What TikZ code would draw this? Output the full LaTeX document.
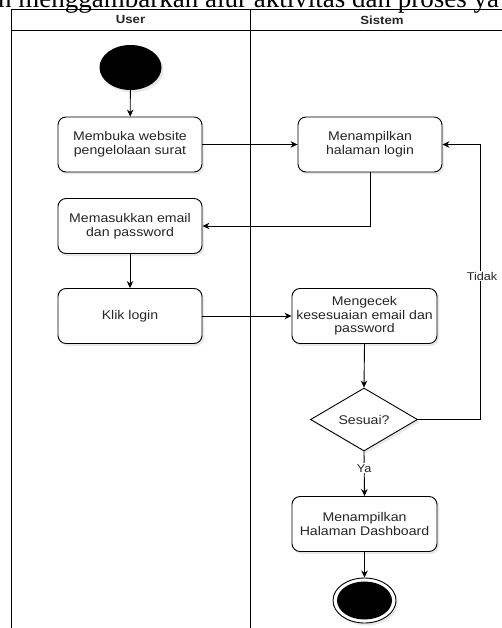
\documentclass[tikz,border=0pt]{standalone}
\usepackage{fontspec}
\setmainfont{Liberation Serif}
\newfontfamily\arialf[FakeStretch=1.12]{Liberation Sans}
\usetikzlibrary{arrows.meta,shapes.geometric,shadows}
\tikzset{
  act/.style={draw, line width=0.9pt, rounded corners=8pt, minimum width=144pt, minimum height=55pt,
    align=center, fill=white, inner sep=1pt, text=black!85,
    font=\arialf\fontsize{12.6}{14.2}\selectfont,
    drop shadow={opacity=0.18, shadow xshift=2pt, shadow yshift=-2.5pt}},
  lane/.style={line width=0.9pt},
  hdr/.style={font=\arialf\bfseries\fontsize{11.8}{13}\selectfont, text=black!85},
  arr/.style={line width=0.9pt, -{Stealth[length=7pt,width=6.5pt]}},
  lbl/.style={fill=white, inner sep=1pt, font=\arialf\fontsize{11.3}{12}\selectfont, text=black!85},
}
\begin{document}
\begin{tikzpicture}[x=1pt,y=-1pt]
\useasboundingbox (0,0) rectangle (502,628);
\begin{scope}
\clip (0,0) rectangle (502,628);
\fill[white] (0,0) rectangle (502,628);
% cropped caption line
\node[anchor=base west, inner sep=0, font=\fontsize{27}{30}\selectfont] (cap) at (-2,7.5) {n menggambarkan alur aktivitas dan proses ya};
% swimlanes
\draw[lane] (11,650) -- (11,9.5) -- (516,9.5) -- (516,650);
\draw[lane] (11,30.5) -- (516,30.5);
\draw[lane] (250,9.5) -- (250,650);
\node[hdr] (hu) at (130.5,20) {User};
\node[hdr] (hs) at (382,20) {Sistem};
% nodes
\node[ellipse, fill=black, minimum width=62pt, minimum height=45pt, inner sep=0,
  drop shadow={opacity=0.18, shadow xshift=2pt, shadow yshift=-2.5pt}] (start) at (130.5,67.5) {};
\node[act] (b1) at (130,144.5) {Membuka website\\pengelolaan surat};
\node[act] (b2) at (370,144.5) {Menampilkan\\halaman login};
\node[act] (b3) at (130,226) {Memasukkan email\\dan password};
\node[act] (b4) at (130,316) {Klik login};
\node[act, minimum width=145pt, font=\arialf\fontsize{12.6}{13.3}\selectfont] (b5) at (364.5,316) {Mengecek\\kesesuaian email dan\\password};
\node[diamond, draw, line width=0.9pt, fill=white, minimum width=107pt, minimum height=63pt, aspect=1.7, inner sep=0,
  font=\arialf\fontsize{12.6}{14}\selectfont, text=black!85,
  drop shadow={opacity=0.18, shadow xshift=2pt, shadow yshift=-2.5pt}] (dec) at (364,419.5) {Sesuai?};
\node[act, minimum width=145pt] (b6) at (364.5,524) {Menampilkan\\Halaman Dashboard};
\node[ellipse, draw, line width=0.9pt, fill=white, minimum width=63pt, minimum height=45pt, inner sep=0,
  drop shadow={opacity=0.18, shadow xshift=2pt, shadow yshift=-2.5pt}] (end) at (364.5,600.5) {};
\node[ellipse, fill=black, minimum width=55pt, minimum height=38pt, inner sep=0] (endin) at (364.5,600.5) {};
% connectors
\draw[arr] (start) -- (b1);
\draw[arr] (b1) -- (b2);
\draw[arr] (b2.south) |- (b3.east);
\draw[arr] (b3) -- (b4);
\draw[arr] (b4) -- (b5);
\draw[arr] (b5.south) -- (dec.north);
\coordinate (tk) at (480,144.5);
\draw[arr] (dec.east) -| (tk) -- (b2.east);
\node[lbl] (ltidak) at (482,276) {Tidak};
\draw[arr] (dec.south) -- (b6.north) node[lbl, pos=0.38] (lya) {Ya};
\draw[arr] (b6.south) -- (end.north);
\end{scope}
\end{tikzpicture}
\end{document}
